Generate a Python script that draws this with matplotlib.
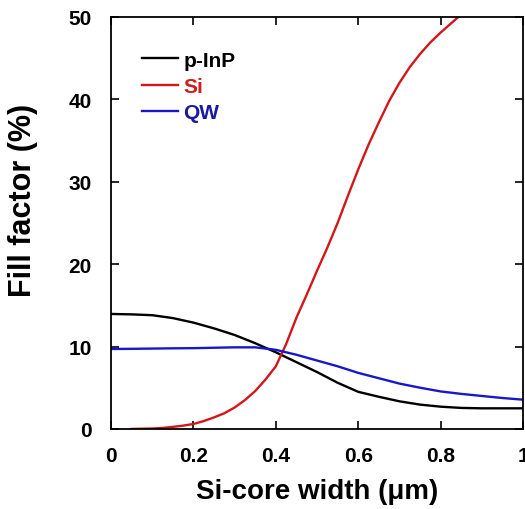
import numpy as np
import matplotlib.pyplot as plt

plt.rcParams['font.family'] = ['Liberation Sans', 'DejaVu Sans']
plt.rcParams['font.weight'] = 'bold'

# Si-core width (um) and fill factor (%)
width = [0.0, 0.05, 0.1, 0.15, 0.2, 0.25, 0.3, 0.35, 0.4, 0.45, 0.5,
         0.55, 0.6, 0.65, 0.7, 0.75, 0.8, 0.85, 0.9, 0.95, 1.0]
ff_inp = [13.95, 13.9, 13.8, 13.45, 12.9, 12.2, 11.4, 10.4, 9.3, 8.1, 6.9,
          5.6, 4.5, 3.9, 3.35, 2.95, 2.7, 2.55, 2.5, 2.5, 2.5]
ff_qw = [9.7, 9.72, 9.75, 9.78, 9.8, 9.85, 9.9, 9.9, 9.6, 9.0, 8.3,
         7.6, 6.8, 6.15, 5.5, 5.0, 4.55, 4.25, 4.0, 3.75, 3.55]
width_si = [0.05, 0.1, 0.125, 0.15, 0.175, 0.2, 0.225, 0.25, 0.275, 0.3,
            0.325, 0.35, 0.375, 0.4, 0.425, 0.45, 0.475, 0.5, 0.525, 0.55,
            0.575, 0.6, 0.625, 0.65, 0.675, 0.7, 0.725, 0.75, 0.775, 0.8,
            0.825, 0.85]
ff_si = [0.0, 0.05, 0.12, 0.25, 0.4, 0.6, 0.95, 1.4, 1.9, 2.6,
         3.5, 4.6, 6.0, 7.6, 10.3, 13.5, 16.3, 19.2, 22.0, 25.0,
         28.3, 31.5, 34.5, 37.2, 39.8, 42.0, 43.9, 45.5, 46.9, 48.1,
         49.2, 50.3]

xticks = [0, 0.2, 0.4, 0.6, 0.8, 1.0]
xticklabels = ['0', '0.2', '0.4', '0.6', '0.8', '1']
yticks = [0, 10, 20, 30, 40, 50]

fig = plt.figure(figsize=(5.25, 5.1), dpi=100)
ax = fig.add_axes([0.2114, 0.157, 0.785, 0.808])

ax.plot(width, ff_inp, color='black', lw=1.7, label='p-InP')
ax.plot(width_si, ff_si, color='#d01818', lw=1.7, label='Si')
ax.plot(width, ff_qw, color='#1818c8', lw=1.7, label='QW')

ax.set_xlim(0, 1)
ax.set_ylim(0, 50)
ax.set_xticks(xticks)
ax.set_xticklabels(xticklabels)
ax.set_yticks(yticks)
ax.tick_params(direction='in', top=True, right=True, length=6, width=1.2,
               labelsize=15)
ax.tick_params(axis='x', pad=12)
ax.tick_params(axis='y', pad=14)
for s in ax.spines.values():
    s.set_linewidth(1.3)

ax.set_xlabel('Si-core width (\u03bcm)', fontsize=20, fontweight='bold', labelpad=10)
ax.set_ylabel('Fill factor (%)', fontsize=22, fontweight='bold')
ax.yaxis.set_label_coords(-0.176, 0.556)

leg = ax.legend(loc='upper left', bbox_to_anchor=(0.075, 0.918), frameon=False,
                borderpad=0, fontsize=15, handlelength=1.75, handletextpad=0.25,
                labelspacing=0.35, borderaxespad=0)
for txt, c in zip(leg.get_texts(), ['black', '#cc2020', '#1a1aa0']):
    txt.set_color(c)

fig.savefig('out.png', dpi=100)
